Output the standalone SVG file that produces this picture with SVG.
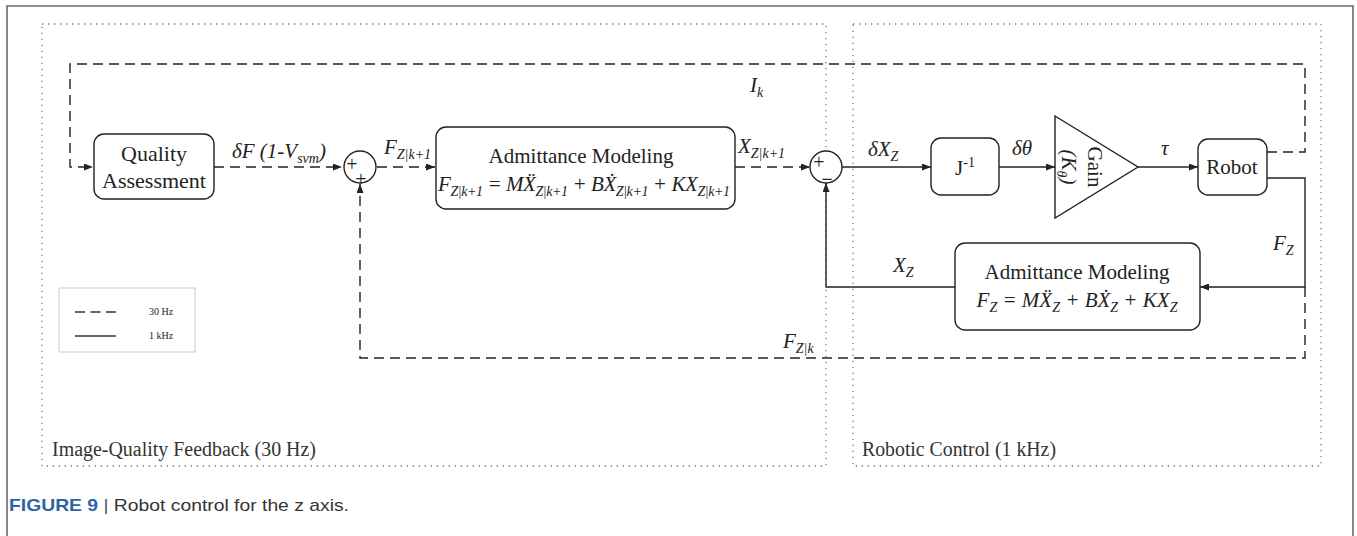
<svg xmlns="http://www.w3.org/2000/svg" width="1357" height="536" viewBox="0 0 1357 536">
<style>
.frame{fill:none;stroke:#6a6a6a;stroke-width:1.6}
.region{fill:none;stroke:#777;stroke-width:1.3;stroke-dasharray:1.3 4.7}
.box{fill:#fff;stroke:#222;stroke-width:1.4}
.sum{fill:#fff;stroke:#222;stroke-width:1.4}
.solid{fill:none;stroke:#222;stroke-width:1.4}
.dash{fill:none;stroke:#222;stroke-width:1.4;stroke-dasharray:10 6}
.t{font-family:"Liberation Serif","DejaVu Serif",serif;fill:#222}
.lbl{font-family:"Liberation Serif","DejaVu Serif",serif;font-style:italic;fill:#222;font-size:21px}
.sub{font-size:14px}
.reg{font-family:"Liberation Serif","DejaVu Serif",serif;font-size:20px;fill:#333}
.cap{font-family:"Liberation Sans",Arial,sans-serif;font-size:17px;fill:#333}
</style>
<defs>
<marker id="arr" markerUnits="userSpaceOnUse" markerWidth="9" markerHeight="7" refX="9" refY="3.5" orient="auto">
<path d="M0,0 L9,3.5 L0,7 z" fill="#222"/>
</marker>
</defs>
<g id="frame">
<path class="frame" d="M7,536 V6 H1353 V536"/>
</g>
<g id="regions">
<rect class="region" x="42" y="24" width="784" height="442"/>
<rect class="region" x="853" y="24" width="468" height="442"/>
<text class="reg" x="52" y="456" textLength="264" lengthAdjust="spacingAndGlyphs">Image-Quality Feedback (30 Hz)</text>
<text class="reg" x="862" y="456" textLength="194" lengthAdjust="spacingAndGlyphs">Robotic Control (1 kHz)</text>
</g>
<g id="connectors">
<path class="dash" d="M1267,152 H1305 V64 H70 V167 H93" marker-end="url(#arr)"/>
<path class="dash" d="M214,167 H342" marker-end="url(#arr)"/>
<path class="dash" d="M377,167 H435" marker-end="url(#arr)"/>
<path class="dash" d="M735,167 H810" marker-end="url(#arr)"/>
<path class="solid" d="M842,167 H931" marker-end="url(#arr)"/>
<path class="solid" d="M999,167 H1055" marker-end="url(#arr)"/>
<path class="solid" d="M1138,167 H1198" marker-end="url(#arr)"/>
<path class="solid" d="M1267,178 H1305 V287 H1200" marker-end="url(#arr)"/>
<path class="solid" d="M955,287 H826 V183" marker-end="url(#arr)"/>
<path class="dash" d="M1305,287 V358 H360 V184" marker-end="url(#arr)"/>
<text class="lbl" x="750" y="92">I<tspan class="sub" dy="5">k</tspan></text>
<text class="lbl" x="232" y="158">δF (1-V<tspan class="sub" dy="5">svm</tspan><tspan dy="-5">)</tspan></text>
<text class="lbl" x="384" y="154">F<tspan class="sub" dy="5">Z|k+1</tspan></text>
<text class="lbl" x="738" y="153">X<tspan class="sub" dy="5">Z|k+1</tspan></text>
<text class="lbl" x="868" y="156">δX<tspan class="sub" dy="5">Z</tspan></text>
<text class="lbl" x="1012" y="155">δθ</text>
<text class="lbl" x="1161" y="155">τ</text>
<text class="lbl" x="1273" y="250">F<tspan class="sub" dy="5">Z</tspan></text>
<text class="lbl" x="893" y="272">X<tspan class="sub" dy="5">Z</tspan></text>
<text class="lbl" x="783" y="348">F<tspan class="sub" dy="5">Z|k</tspan></text>
</g>
<g id="quality">
<rect class="box" x="94" y="134" width="120" height="65" rx="10"/>
<text class="t" x="154" y="161" font-size="22" text-anchor="middle">Quality</text>
<text class="t" x="154" y="188" font-size="22" text-anchor="middle">Assessment</text>
</g>
<g id="sum1">
<circle class="sum" cx="360" cy="167" r="16"/>
<text class="t" x="352" y="171" font-size="20" text-anchor="middle">+</text>
<text class="t" x="361" y="186" font-size="20" text-anchor="middle">+</text>
</g>
<g id="admittance1">
<rect class="box" x="436" y="127" width="299" height="82" rx="10"/>
<text class="t" x="581" y="163" font-size="21" text-anchor="middle">Admittance Modeling</text>
<text class="lbl" x="438" y="191" textLength="292" lengthAdjust="spacing">F<tspan class="sub" dy="5">Z|k+1</tspan><tspan dy="-5"> = MẌ</tspan><tspan class="sub" dy="5">Z|k+1</tspan><tspan dy="-5"> + BẊ</tspan><tspan class="sub" dy="5">Z|k+1</tspan><tspan dy="-5"> + KX</tspan><tspan class="sub" dy="5">Z|k+1</tspan></text>
</g>
<g id="sum2">
<circle class="sum" cx="826" cy="167" r="16"/>
<text class="t" x="819" y="169" font-size="20" text-anchor="middle">+</text>
<text class="t" x="827" y="186" font-size="20" text-anchor="middle" font-weight="bold">−</text>
</g>
<g id="jinv">
<rect class="box" x="931" y="138" width="68" height="57" rx="10"/>
<text class="t" x="965" y="175" font-size="21" text-anchor="middle">J<tspan font-size="14" dy="-8">-1</tspan></text>
</g>
<g id="gain">
<path class="box" d="M1055,116 L1138,167 L1055,218 Z"/>
<g transform="translate(1080,167) rotate(90)">
<text class="t" x="0" y="-8" font-size="21" text-anchor="middle">Gain</text>
<text class="lbl" x="0" y="18" font-size="21" text-anchor="middle">(K<tspan class="sub" dy="5">θ</tspan><tspan dy="-5">)</tspan></text>
</g>
</g>
<g id="robot">
<rect class="box" x="1198" y="139" width="69" height="56" rx="10"/>
<text class="t" x="1232" y="174" font-size="21" text-anchor="middle">Robot</text>
</g>
<g id="admittance2">
<rect class="box" x="955" y="243" width="245" height="87" rx="10"/>
<text class="t" x="1077" y="279" font-size="21" text-anchor="middle">Admittance Modeling</text>
<text class="lbl" x="1077" y="307" text-anchor="middle">F<tspan class="sub" dy="5">Z</tspan><tspan dy="-5"> = MẌ</tspan><tspan class="sub" dy="5">Z</tspan><tspan dy="-5"> + BẊ</tspan><tspan class="sub" dy="5">Z</tspan><tspan dy="-5"> + KX</tspan><tspan class="sub" dy="5">Z</tspan></text>
</g>
<g id="legend">
<rect x="59" y="288" width="136" height="64" fill="#fff" stroke="#ccc" stroke-width="1"/>
<line x1="75" y1="312" x2="116" y2="312" stroke="#333" stroke-width="1.5" stroke-dasharray="10 5.5"/>
<line x1="75" y1="336" x2="116" y2="336" stroke="#333" stroke-width="1.5"/>
<text class="t" x="149" y="315" font-size="10" fill="#444">30 Hz</text>
<text class="t" x="149" y="339" font-size="10" fill="#444">1 kHz</text>
</g>
<g id="caption">
<text class="cap" x="9" y="511" textLength="340" lengthAdjust="spacingAndGlyphs"><tspan font-weight="bold" fill="#2f64a3">FIGURE 9</tspan><tspan fill="#555"> | </tspan>Robot control for the z axis.</text>
</g>
</svg>
